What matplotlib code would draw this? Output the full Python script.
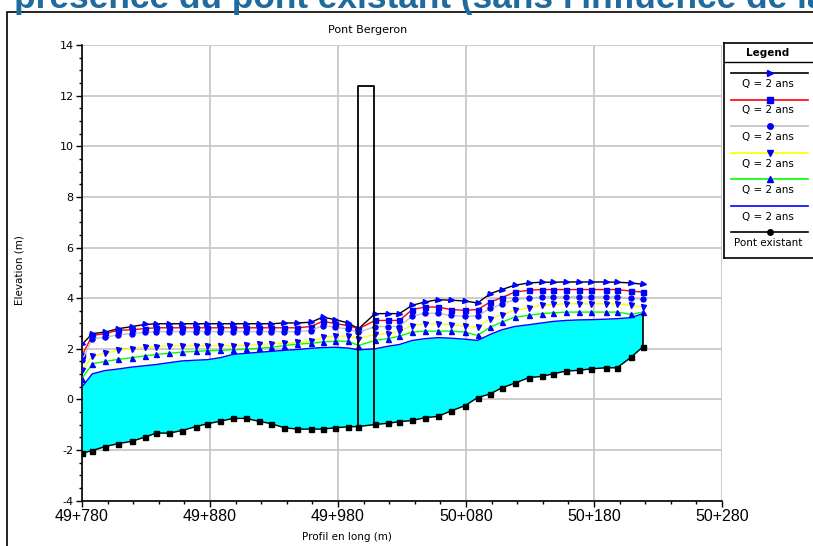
import matplotlib
matplotlib.use("Agg")
import matplotlib.pyplot as plt
import numpy as np
from matplotlib.patches import Rectangle

# stations (m) along the profile
stations = [49780, 49788, 49798, 49808, 49819, 49829, 49838, 49848, 49858, 49869,
            49878, 49888, 49898, 49908, 49918, 49928, 49938, 49948, 49959, 49968,
            49978, 49988, 49996, 50009, 50019, 50028, 50038, 50048, 50058, 50068,
            50079, 50089, 50099, 50108, 50118, 50129, 50139, 50148, 50158, 50168,
            50178, 50189, 50198, 50209, 50218]

ground = [-2.12, -2.02, -1.86, -1.75, -1.65, -1.49, -1.33, -1.33, -1.23, -1.07,
          -0.96, -0.86, -0.75, -0.75, -0.86, -0.96, -1.12, -1.17, -1.17, -1.17,
          -1.12, -1.08, -1.07, -0.99, -0.94, -0.88, -0.83, -0.72, -0.67, -0.46,
          -0.25, 0.07, 0.22, 0.46, 0.64, 0.86, 0.91, 1.01, 1.12, 1.15,
          1.21, 1.25, 1.25, 1.67, 2.07]

q_black = [2.17, 2.60, 2.66, 2.79, 2.88, 2.96, 2.99, 2.99, 2.99, 2.99,
           2.99, 2.99, 2.99, 2.99, 2.99, 2.99, 3.02, 3.02, 3.05, 3.25,
           3.15, 3.02, 2.79, 3.39, 3.39, 3.39, 3.72, 3.85, 3.94, 3.92,
           3.89, 3.81, 4.18, 4.34, 4.51, 4.60, 4.63, 4.63, 4.64, 4.64,
           4.64, 4.64, 4.63, 4.60, 4.55]

q_red = [1.74, 2.53, 2.60, 2.73, 2.75, 2.80, 2.83, 2.83, 2.83, 2.83,
         2.83, 2.83, 2.83, 2.83, 2.83, 2.83, 2.83, 2.83, 2.88, 3.09,
         2.99, 2.92, 2.79, 3.12, 3.12, 3.12, 3.55, 3.65, 3.65, 3.55,
         3.52, 3.55, 3.85, 4.02, 4.24, 4.31, 4.34, 4.34, 4.34, 4.34,
         4.34, 4.34, 4.34, 4.28, 4.24]

q_gray = [1.54, 2.40, 2.45, 2.55, 2.60, 2.65, 2.68, 2.68, 2.68, 2.68,
          2.68, 2.68, 2.68, 2.68, 2.68, 2.68, 2.68, 2.68, 2.72, 2.92,
          2.85, 2.78, 2.65, 2.88, 2.88, 2.88, 3.30, 3.40, 3.40, 3.32,
          3.28, 3.30, 3.60, 3.76, 3.95, 4.00, 4.05, 4.05, 4.05, 4.05,
          4.05, 4.05, 4.05, 4.00, 3.95]

q_yellow = [1.15, 1.70, 1.82, 1.94, 2.00, 2.06, 2.09, 2.12, 2.12, 2.12,
            2.12, 2.12, 2.12, 2.14, 2.17, 2.20, 2.22, 2.25, 2.30, 2.45,
            2.50, 2.50, 2.40, 2.57, 2.60, 2.70, 2.92, 2.99, 2.99, 2.95,
            2.90, 2.86, 3.19, 3.35, 3.52, 3.62, 3.72, 3.75, 3.78, 3.78,
            3.78, 3.78, 3.78, 3.72, 3.65]

q_green = [0.82, 1.41, 1.50, 1.58, 1.65, 1.72, 1.78, 1.82, 1.87, 1.90,
           1.92, 1.94, 1.96, 1.98, 2.02, 2.06, 2.13, 2.18, 2.22, 2.27,
           2.30, 2.30, 2.13, 2.33, 2.40, 2.50, 2.66, 2.70, 2.70, 2.70,
           2.66, 2.53, 2.86, 3.05, 3.25, 3.32, 3.39, 3.42, 3.45, 3.45,
           3.45, 3.45, 3.45, 3.36, 3.45]

q_blue = [0.49, 1.01, 1.14, 1.20, 1.28, 1.33, 1.38, 1.45, 1.52, 1.55,
          1.57, 1.65, 1.78, 1.82, 1.86, 1.90, 1.94, 1.97, 2.02, 2.05,
          2.06, 2.03, 1.96, 2.00, 2.10, 2.17, 2.33, 2.40, 2.44, 2.42,
          2.38, 2.33, 2.57, 2.75, 2.88, 2.95, 3.02, 3.08, 3.12, 3.14,
          3.15, 3.17, 3.19, 3.23, 3.39]

bridge_x = [49996, 50008]
bridge_deck = 12.4

series_labels = ["Q = 2 ans"] * 6 + ["Pont existant"]

fig = plt.figure(figsize=(8.13, 5.46), dpi=100)

# document heading cut at the top of the screenshot
fig.text(14 / 813, 1 - 8 / 546, "présence du pont existant (sans l'influence de la",
         family="Liberation Sans", weight="bold", size=25.4, color="#1f6b9e",
         ha="left", va="baseline")

# outer frame
fig.patches.append(Rectangle((7 / 813, -0.1), 1.2, 1 - 12 / 546 + 0.1,
                             transform=fig.transFigure, fill=False,
                             edgecolor="black", lw=1.2))

ax = fig.add_axes([82 / 813, 1 - 500.7 / 546, 640 / 813, 455.7 / 546])

ax.fill_between(stations, ground, q_blue, color="#00ffff", lw=0, zorder=2)

styles = [
    (q_black, "black", ">"),
    (q_red, "#ff0000", "s"),
    (q_gray, "#c0c0c0", "o"),
    (q_yellow, "#ffff00", "v"),
    (q_green, "#00ff00", "^"),
]
for vals, col, mk in styles:
    ax.plot(stations, vals, color=col, lw=1, marker=mk, ms=3.6,
            mfc="#0000ff", mec="#0000ff", zorder=4)
ax.plot(stations, q_blue, color="#0000ff", lw=1, zorder=4)

ax.plot(stations, ground, color="black", lw=1, marker="s", ms=3.6, zorder=5)

# bridge
g_b = np.interp(bridge_x, stations, ground)
ax.plot([bridge_x[0], bridge_x[0], bridge_x[1], bridge_x[1]],
        [g_b[0], bridge_deck, bridge_deck, g_b[1]], color="black", lw=1.3, zorder=6)
ax.vlines(stations[-1], ground[-1], q_blue[-1], colors="black", lw=1.2, zorder=6)

ax.set_xlim(49780, 50280)
ax.set_ylim(-4, 14)
xt = np.arange(49780, 50281, 100)
ax.set_xticks(xt)
ax.set_xticklabels([f"{v // 1000}+{v % 1000:03d}" for v in xt],
                   family="Liberation Sans", size=11.5)
ax.set_xticks(np.arange(49780, 50281, 20), minor=True)
ax.set_yticks(np.arange(-4, 15, 2))
ax.set_yticklabels([str(v) for v in range(-4, 15, 2)], size=8)
ax.set_yticks(np.arange(-4, 14.1, 0.5), minor=True)
ax.tick_params(which="major", length=4, width=1, pad=2)
ax.tick_params(which="minor", length=2, width=1)

ax.grid(which="major", color="#c8c8c8", lw=1.3)
ax.set_axisbelow(True)
for s in ["top", "right"]:
    ax.spines[s].set_visible(False)
ax.spines["left"].set_linewidth(1.2)
ax.spines["bottom"].set_linewidth(1.2)

fig.text(368 / 813, 1 - 30 / 546, "Pont Bergeron", size=8, ha="center", va="center")
fig.text(347 / 813, 1 - 537 / 546, "Profil en long (m)", size=7.5, ha="center", va="center")
fig.text(20 / 813, 1 - 270 / 546, "Elevation (m)", size=7.5, ha="center", va="center",
         rotation=90)

# legend box
lax = fig.add_axes([724 / 813, 1 - 258 / 546, 95 / 813, 215 / 546])
lax.set_xlim(724, 819)
lax.set_ylim(258, 43)
lax.set_xticks([])
lax.set_yticks([])
for s in lax.spines.values():
    s.set_linewidth(1.2)
lax.axhline(62, color="black", lw=1)
lax.text(768, 53, "Legend", size=7.5, weight="bold", ha="center", va="center")

leg_styles = [("black", ">", "#0000ff"), ("#ff0000", "s", "#0000ff"),
              ("#c0c0c0", "o", "#0000ff"), ("#ffff00", "v", "#0000ff"),
              ("#00ff00", "^", "#0000ff"), ("#0000ff", None, None),
              ("black", "o", "black")]
for i, (col, mk, mc) in enumerate(leg_styles):
    yl = 73 + 26.5 * i
    lax.plot([731, 808], [yl, yl], color=col, lw=1.2)
    if mk:
        lax.plot([770], [yl], marker=mk, ms=4, color=mc)
    lax.text(768, yl + 11, series_labels[i], size=7.5, ha="center", va="center")

fig.savefig("out.png", dpi=100)
